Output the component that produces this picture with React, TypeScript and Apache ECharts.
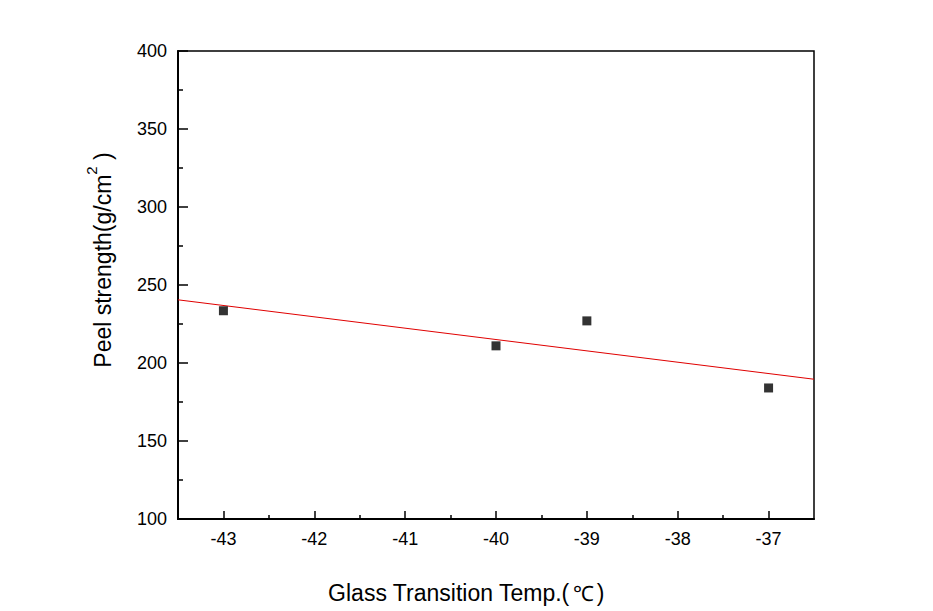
import React, { useEffect, useRef } from "react";
import * as echarts from "echarts";

const glassTemps = [-43, -40, -39, -37];
const peelStrength = [233.5, 211, 227, 184];
const fitLineX = [-43.5, -36.5];
const fitLineY = [240.5, 189.6];
const xMajorTicks = [-43, -42, -41, -40, -39, -38, -37];
const xMinorTicks = [-42.5, -41.5, -40.5, -39.5, -38.5, -37.5];

export default function App() {
  const ref = useRef<HTMLDivElement>(null);
  useEffect(() => {
    const chart = echarts.init(ref.current!, null, { renderer: "svg" });
    const font = "Arial, 'Liberation Sans', sans-serif";
    chart.setOption({
      animation: false,
      backgroundColor: "#ffffff",
      grid: {
        left: 178,
        right: 119,
        top: 51,
        bottom: 92,
        show: true,
        borderColor: "#000",
        borderWidth: 1.5,
      },
      xAxis: [
        {
          type: "value",
          min: -43.5,
          max: -36.5,
          name: "{a|Glass Transition Temp.(}{c|℃}{a|)}",
          nameLocation: "middle",
          nameGap: 60,
          nameTextStyle: {
            fontFamily: font,
            fontSize: 23,
            color: "#000",
            padding: [0, 60, 0, 0],
            rich: {
              a: { fontFamily: font, fontSize: 23, color: "#000", lineHeight: 28 },
              c: { fontFamily: font, fontSize: 21, color: "#000", lineHeight: 28, padding: [0, 3, 0, 3] },
            },
          },
          axisLine: { show: true, onZero: false, lineStyle: { color: "#000", width: 2 } },
          axisTick: {
            show: true,
            inside: true,
            length: 8,
            customValues: xMajorTicks,
            lineStyle: { color: "#000", width: 1.5 },
          },
          axisLabel: {
            customValues: xMajorTicks,
            fontFamily: font,
            fontSize: 18,
            color: "#000",
            margin: 11,
          },
          splitLine: { show: false },
        },
        {
          type: "value",
          min: -43.5,
          max: -36.5,
          position: "bottom",
          axisLine: { show: false },
          axisTick: {
            show: true,
            inside: true,
            length: 4,
            customValues: xMinorTicks,
            lineStyle: { color: "#000", width: 1.5 },
          },
          axisLabel: { show: false },
          splitLine: { show: false },
        },
      ],
      yAxis: {
        type: "value",
        min: 100,
        max: 400,
        interval: 50,
        name: "{a|Peel strength(g/cm}{s|2}{a| )}",
        nameLocation: "middle",
        nameGap: 64,
        nameRotate: 90,
        nameTextStyle: {
          fontFamily: font,
          fontSize: 23,
          color: "#000",
          padding: [0, 0, 0, 50],
          rich: {
            a: { fontFamily: font, fontSize: 23, color: "#000", lineHeight: 30, verticalAlign: "bottom" },
            s: { fontFamily: font, fontSize: 15, color: "#000", lineHeight: 30, verticalAlign: "top" },
          },
        },
        axisLine: { show: true, lineStyle: { color: "#000", width: 2 } },
        axisTick: { show: true, inside: true, length: 10, lineStyle: { color: "#000", width: 1.5 } },
        minorTick: { show: true, splitNumber: 2, length: 5, lineStyle: { color: "#000", width: 1.5 } },
        axisLabel: { fontFamily: font, fontSize: 18, color: "#000", margin: 11 },
        splitLine: { show: false },
        minorSplitLine: { show: false },
      },
      series: [
        {
          type: "line",
          data: fitLineX.map((x, i) => [x, fitLineY[i]]),
          showSymbol: false,
          symbol: "none",
          lineStyle: { color: "#e00000", width: 1 },
          z: 2,
        },
        {
          type: "scatter",
          data: glassTemps.map((x, i) => [x, peelStrength[i]]),
          symbol: "rect",
          symbolSize: 9,
          itemStyle: { color: "#000" },
          z: 3,
        },
      ],
    });
    return () => chart.dispose();
  }, []);
  return (
    <div
      ref={ref}
      style={{ position: "fixed", left: 0, top: 0, width: 933, height: 611, background: "#fff" }}
    />
  );
}
